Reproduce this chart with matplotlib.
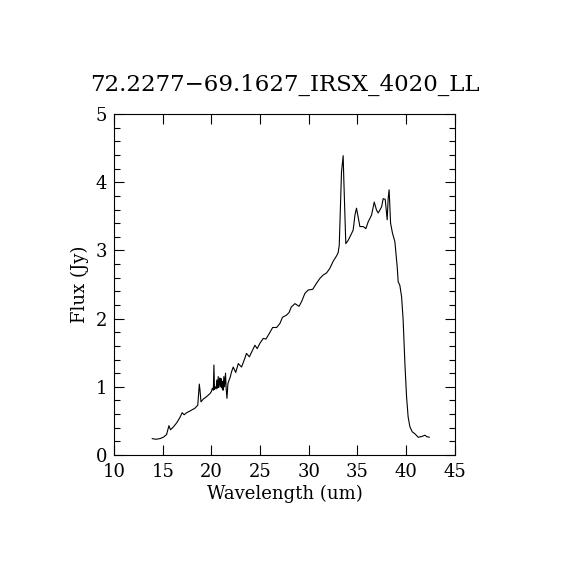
import matplotlib
matplotlib.use('Agg')
import matplotlib.pyplot as plt
from matplotlib.ticker import MultipleLocator

# Spectrum values
wavelength = [13.93, 14.3, 14.72, 15.06, 15.4, 15.64, 15.8, 16.09, 16.43, 16.77,
              17.0, 17.2, 17.46, 17.8, 18.3, 18.6, 18.76, 18.83, 18.93, 19.17,
              19.5, 19.85, 20.0, 20.1, 20.2, 20.26, 20.32, 20.4, 20.5, 20.55,
              20.62, 20.7, 20.75, 20.82, 20.88, 20.95, 21.02, 21.1, 21.15, 21.2,
              21.28, 21.35, 21.45, 21.52, 21.6, 21.7, 21.83, 21.95, 22.07, 22.24,
              22.5, 22.76, 23.1, 23.44, 23.6, 23.9, 24.23, 24.47, 24.7, 24.99,
              25.33, 25.6, 25.94, 26.29, 26.7, 27.04, 27.3, 27.7, 27.98, 28.2,
              28.58, 29.0, 29.26, 29.6, 29.94, 30.4, 30.8, 31.14, 31.48, 31.83,
              32.17, 32.5, 32.85, 33.02, 33.13, 33.26, 33.36, 33.53, 33.6, 33.8,
              34.05, 34.4, 34.56, 34.74, 34.9, 35.07, 35.25, 35.6, 35.86, 36.1,
              36.45, 36.72, 36.96, 37.13, 37.48, 37.64, 37.85, 38.05, 38.15, 38.25,
              38.4, 38.6, 38.84, 39.08, 39.18, 39.35, 39.53, 39.69, 39.87, 40.04,
              40.2, 40.38, 40.62, 40.9, 41.24, 41.58, 41.93, 42.1, 42.37]
flux = [0.24, 0.23, 0.24, 0.26, 0.30, 0.43, 0.37, 0.41, 0.47, 0.55,
        0.62, 0.59, 0.62, 0.645, 0.685, 0.73, 1.04, 0.95, 0.78, 0.82,
        0.855, 0.90, 0.93, 0.98, 0.95, 1.32, 0.96, 1.0, 0.97, 1.10,
        0.98, 1.15, 0.99, 1.05, 1.13, 1.0, 1.12, 0.98, 1.08, 0.95,
        1.15, 1.0, 1.20, 0.97, 0.83, 1.05, 1.10, 1.15, 1.22, 1.29,
        1.21, 1.34, 1.29, 1.42, 1.49, 1.44, 1.54, 1.61, 1.56, 1.64,
        1.71, 1.70, 1.78, 1.87, 1.87, 1.93, 2.02, 2.05, 2.09, 2.17,
        2.22, 2.18, 2.25, 2.37, 2.42, 2.43, 2.52, 2.59, 2.64, 2.67,
        2.74, 2.84, 2.92, 2.97, 3.08, 3.71, 4.15, 4.39, 4.03, 3.10,
        3.15, 3.25, 3.30, 3.52, 3.62, 3.49, 3.35, 3.35, 3.32, 3.42,
        3.52, 3.71, 3.59, 3.55, 3.64, 3.76, 3.75, 3.45, 3.76, 3.89,
        3.40, 3.25, 3.13, 2.76, 2.54, 2.49, 2.32, 1.98, 1.34, 0.855,
        0.56, 0.415, 0.34, 0.31, 0.26, 0.27, 0.29, 0.27, 0.26]

title_text = '72.2277\u221269.1627_IRSX_4020_LL'

plt.rcParams['font.family'] = ['DejaVu Serif']

fig = plt.figure(figsize=(5.7, 5.7), dpi=100)
ax = fig.add_axes([0.2, 0.2018, 0.598, 0.598])

ax.plot(wavelength, flux, color='black', linewidth=0.8)

ax.set_xlim(10, 45)
ax.set_ylim(0, 5)
ax.xaxis.set_major_locator(MultipleLocator(5))
ax.yaxis.set_major_locator(MultipleLocator(1))
ax.yaxis.set_minor_locator(MultipleLocator(0.2))
ax.tick_params(which='both', direction='in', top=True, right=True, width=0.8, labelsize=13)
ax.tick_params(which='major', length=7)
ax.tick_params(which='minor', length=4)
ax.tick_params(axis='x', which='major', pad=6)
ax.tick_params(axis='y', which='major', pad=5)
for sp in ax.spines.values():
    sp.set_linewidth(0.8)

ax.set_xlabel('Wavelength (um)', fontsize=13)
ax.xaxis.set_label_coords(0.5, -0.088)
ax.set_ylabel('Flux (Jy)', fontsize=13)
ax.yaxis.set_label_coords(-0.073, 0.5)
ax.set_title(title_text, fontsize=16.5, pad=17)

fig.savefig('out.png', dpi=100)
